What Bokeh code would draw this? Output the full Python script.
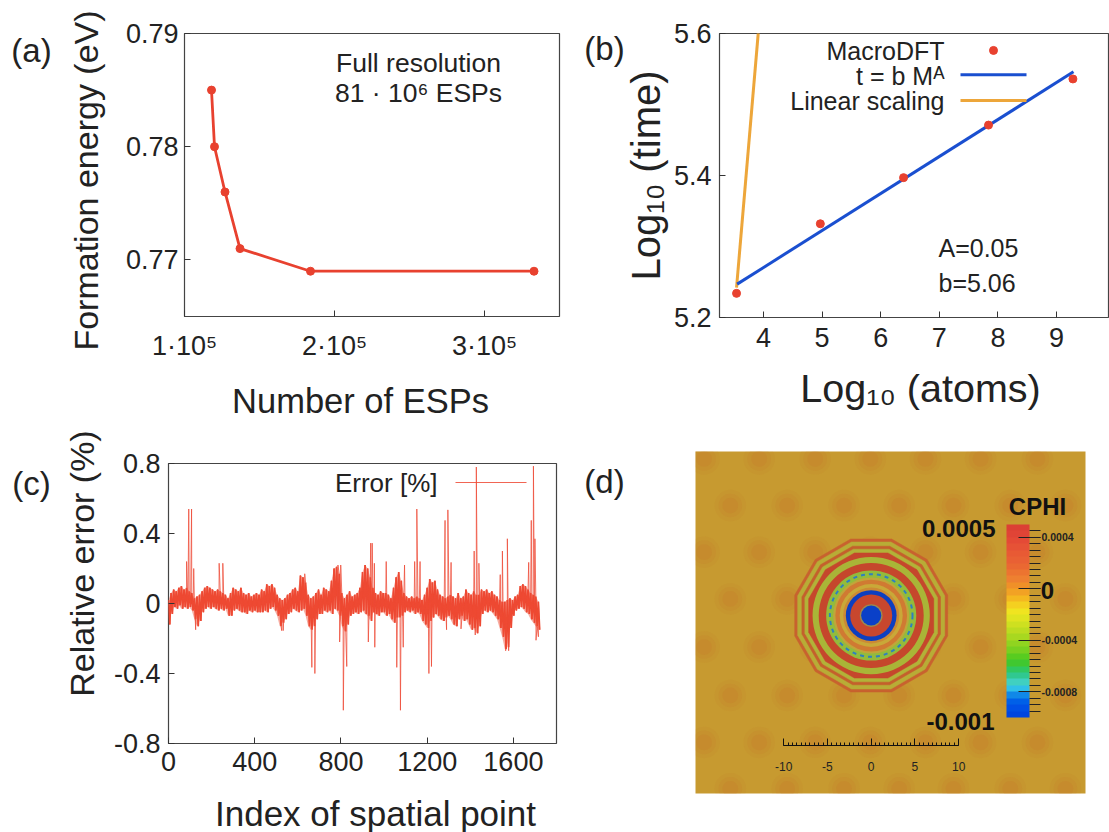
import math
from bokeh.plotting import figure
from bokeh.models import (Range1d, FixedTicker, LinearAxis, Label, ColorBar, LinearColorMapper)
from bokeh.core.properties import value
from bokeh.embed import file_html
from bokeh.resources import INLINE

FONT = "Liberation Sans"
INK = "#222222"
RED = "#e8412f"

# (a)
esp_count = [1.18e5, 1.20e5, 1.27e5, 1.37e5, 1.84e5, 3.33e5]
formation_energy = [0.785, 0.780, 0.776, 0.771, 0.769, 0.769]
a_xticks = [1e5, 2e5, 3e5]
a_xlabels = ["1·10⁵", "2·10⁵", "3·10⁵"]
a_yticks = [0.77, 0.78, 0.79]

# (b)
log_atoms = [3.54, 4.97, 6.39, 7.84, 9.28]
log_time = [5.234, 5.332, 5.397, 5.471, 5.536]
fit_x = [3.55, 9.29]
fit_y = [5.247, 5.546]
linear_x = [3.54, 3.92]
linear_y = [5.242, 5.61]
b_xticks = [4, 5, 6, 7, 8, 9]
b_yticks = [5.2, 5.4, 5.6]

# (c)  band of the series, read every 12 points (upper and lower edge), then the spikes
band_hi = [
    .02, .06, .08, .07, .09, .10, .08, .09, .07, .06, .03, .04,
    .05, .07, .09, .10, .09, .08, .07, .08, .07, .06, .05, .03,
    .06, .09, .08, .07, .09, .06, .05, .06, .04, .05, .06, .05,
    .08, .07, .11, .10, .11, .09, .05, .03, .02, .03, .05, .06,
    .08, .09, .07, .16, .15, .12, .05, .03, .04, .06, .08, .05,
    .09, .08, .07, .13, .20, .21, .17, .06, .03, .05, .07, .04,
    .05, .06, .09, .18, .22, .20, .15, .09, .06, .05, .07, .06,
    .06, .05, .03, .09, .15, .18, .13, .06, .04, .03, .04, .03,
    .04, .03, .02, .05, .09, .14, .12, .13, .08, .05, .04, .03,
    .04, .05, .04, .03, .06, .03, .04, .08, .06, .05, .07, .05,
    .05, .08, .07, .08, .06, .07, .05, .04, .02, .01, .01, .02,
    .03, .02, .04, .05, .10, .11, .10, .08, .06, .05, .04, .01,
]
band_lo = [
    -.12, -.06, -.02, -.03, -.01, -.03, -.02, -.03, -.02, -.04, -.09, -.13,
    -.10, -.05, -.03, -.02, -.03, -.02, -.03, -.04, -.03, -.04, -.03, -.07,
    -.07, -.04, -.03, -.04, -.05, -.05, -.06, -.04, -.05, -.04, -.05, -.05,
    -.05, -.04, -.05, -.03, -.02, -.04, -.07, -.13, -.11, -.09, -.06, -.05,
    -.03, -.04, -.05, -.04, -.03, -.07, -.13, -.15, -.13, -.09, -.06, -.06,
    -.04, -.05, -.04, -.06, -.03, -.04, -.07, -.13, -.16, -.12, -.07, -.06,
    -.05, -.06, -.05, -.04, -.06, -.07, -.10, -.05, -.06, -.07, -.05, -.05,
    -.07, -.06, -.09, -.11, -.08, -.08, -.07, -.05, -.04, -.05, -.04, -.06,
    -.05, -.06, -.10, -.12, -.14, -.10, -.08, -.06, -.07, -.09, -.10, -.08,
    -.07, -.09, -.12, -.13, -.09, -.07, -.10, -.09, -.12, -.15, -.14, -.17,
    -.13, -.06, -.04, -.05, -.04, -.05, -.07, -.09, -.14, -.19, -.26, -.25,
    -.14, -.07, -.04, -.03, -.02, -.03, -.05, -.06, -.09, -.11, -.13, -.15,
]
spike_index = [84, 94, 107, 117, 126, 235, 252, 525, 532, 632, 665, 679, 786, 794, 799, 811, 827,
               927, 938, 945, 955, 957, 1010, 1059, 1076, 1089, 1095, 1142, 1152, 1167, 1208, 1220,
               1283, 1290, 1296, 1311, 1357, 1418, 1423, 1428, 1440, 1539, 1549, 1564, 1572, 1578,
               1671, 1683, 1693, 1700, 1705, 1716]
spike_value = [.24, .54, .54, .20, -.15, .23, .23, -.155, -.155, .17, -.365, -.40, .22, -.22, .22, -.61, -.36,
               -.22, .345, .345, .23, -.25, .24, -.365, -.61, -.25, .22, .24, .54, .24, -.40, -.36,
               .475, -.15, .535, .235, -.145, .30, -.18, .78, .23, .165, .30, -.27, .37, -.27,
               .235, .475, .785, .37, -.21, -.19]
c_xticks = [0, 400, 800, 1200, 1600]
c_xlabels = ["0", "400", "800", "1200", "1600"]
c_yticks = [-0.8, -0.4, 0, 0.4, 0.8]
c_ylabels = ["-0.8", "-0.4", "0", "0.4", "0.8"]

# (d)
lattice_rows_y = [17.9, 12.57, 7.24, 1.9, -3.6, -9.14, -14.5, -19.8]
lattice_even_x = [-19.1, -12.8, -6.4, -0.1, 6.2, 12.5, 19.0]
lattice_odd_x = [-16.1, -9.6, -3.1, 3.2, 9.4, 15.9, 22.2]
outer_ring_radius = [9.05, 8.7, 8.2, 7.85, 7.4]
outer_ring_color = ["#c8622e", "#b8ac36", "#c4602c", "#b2b238", "#c5472c"]
ring_radius = [6.7, 6.0, 5.15, 4.35, 4.1, 3.6, 3.2, 2.9, 2.4, 1.3, 1.15]
ring_color = ["#a9b537", "#c5472c", "#93bb3c", "#c0a63a", "#d07a32", "#c9a838", "#cc8a34",
              "#0d3fc0", "#c8472e", "#9a8a50", "#0a40c8"]
cphi_palette = ["#0046e0", "#0050e6", "#0060e8", "#1088e8", "#30c0e8", "#40d0c0", "#30c890", "#30c860",
                "#40c830", "#58cc20", "#78d020", "#90d420", "#a8d820", "#bcdc20", "#cee020", "#e0e420",
                "#f0e420", "#f4d020", "#f4b820", "#f2a224", "#f09028", "#ee8030", "#ec7430", "#ea6832",
                "#e96034", "#e85a34", "#e65236", "#e44a36", "#e04436", "#dc4034"]
cphi_low, cphi_high = -0.001, 0.0005
cphi_ticks = [-0.0008, -0.0004, 0, 0.0004]
ruler_ticks = [-10, -5, 0, 5, 10]
ruler_labels = ["-10", "-5", "0", "5", "10"]


def panel(left, right, top, bottom, fl, fr, ft, fb, xr, yr, **kw):
    """One panel; l/r/t/b are its page box, fl/fr/ft/fb its frame on the page."""
    p = figure(width=right - left, height=bottom - top, x_range=Range1d(*xr), y_range=Range1d(*yr),
               output_backend="svg", toolbar_location=None,
               min_border_left=fl - left, min_border_right=right - fr,
               min_border_top=ft - top, min_border_bottom=bottom - fb, **kw)
    p.styles = {"position": "absolute", "left": f"{left}px", "top": f"{top}px"}
    p.grid.visible = False
    p.outline_line_color = "#444444"
    p.outline_line_width = 1.2
    p.background_fill_color = "white"
    p.border_fill_color = "white"
    return p


def style_axes(p, size):
    for ax in (p.xaxis[0], p.yaxis[0]):
        ax.axis_line_color = None
        ax.major_tick_in = 6
        ax.major_tick_out = 0
        ax.major_tick_line_color = "#333333"
        ax.minor_tick_line_color = None
        ax.major_label_text_font = FONT
        ax.major_label_text_font_size = f"{size}px"
        ax.major_label_text_color = INK


def text(p, frame, px, py, s, size, align="left", style="normal", color=INK):
    fl, fb = frame
    p.add_layout(Label(x=px - fl, y=fb - py, x_units="screen", y_units="screen", text=s,
                       text_font=FONT, text_font_size=f"{size}px", text_font_style=style,
                       text_align=align, text_baseline="middle", text_color=color))


# ---------- (a)
pa = panel(0, 575, 0, 420, 184, 559, 33, 316, (1e5, 3.5e5), (0.765, 0.79))
pa.line(esp_count, formation_energy, line_color=RED, line_width=2.8)
pa.scatter(esp_count, formation_energy, size=8, color=RED)
style_axes(pa, 27)
pa.xaxis.ticker = FixedTicker(ticks=a_xticks)
pa.xaxis.major_label_overrides = dict(zip(a_xticks, a_xlabels))
pa.yaxis.ticker = FixedTicker(ticks=a_yticks)
pa.xaxis.major_label_standoff = 14
pa.yaxis.major_label_standoff = 6
fa = (184, 316)
text(pa, fa, 418, 62, "Full resolution", 26.5, "center")
text(pa, fa, 418, 92, "81 · 10⁶ ESPs", 26.5, "center")

# ---------- (b)
bx = lambda px: 4 + (px - 763) / 58.6
by = lambda py: 5.2 + (316.7 - py) / 709
pb = panel(575, 1109, 0, 420, 719, 1109, 33, 317, (bx(719), bx(1109)), (5.2, 5.6))
pb.line(linear_x, linear_y, line_color="#eda63a", line_width=3)
pb.line(fit_x, fit_y, line_color="#1a4fd0", line_width=3)
pb.scatter(log_atoms, log_time, size=8, color=RED)
style_axes(pb, 27)
pb.xaxis.ticker = FixedTicker(ticks=b_xticks)
pb.yaxis.ticker = FixedTicker(ticks=b_yticks)
pb.xaxis.major_label_standoff = 10
pb.yaxis.major_label_standoff = 8
fb = (719, 317)
text(pb, fb, 944, 50, "MacroDFT", 25, "right")
text(pb, fb, 944, 75, "t = b Mᴬ", 25, "right")
text(pb, fb, 944, 100, "Linear scaling", 25, "right")
pb.scatter([bx(993)], [by(50)], size=8, color=RED)
pb.line([bx(960), bx(1026)], [by(74.3), by(74.3)], line_color="#1a4fd0", line_width=3)
pb.line([bx(960), bx(1026)], [by(100), by(100)], line_color="#eda63a", line_width=3)
text(pb, fb, 938, 247, "A=0.05", 25)
text(pb, fb, 938, 282, "b=5.06", 25)

# ---------- (c)
band_index = list(range(0, 1720, 12))
zig = []
for i, hi, lo in zip(band_index, band_hi, band_lo):
    zig.append((i, hi))
    zig.append((i + 6, lo))
points = sorted(zig + list(zip(spike_index, spike_value)))
err_x = [q[0] for q in points]
err_y = [q[1] for q in points]

pc = panel(0, 575, 420, 832, 168, 556, 463, 743, (0, 1800), (-0.8, 0.8))
pc.varea(band_index, band_lo, band_hi, fill_color="#ee4a30", fill_alpha=0.45)
pc.line([q[0] for q in zig], [q[1] for q in zig], line_color="#ee4a30", line_width=1.7)
pc.line(err_x, err_y, line_color="#ee4a35", line_width=1.0, line_alpha=0.75)
style_axes(pc, 27)
pc.xaxis.ticker = FixedTicker(ticks=c_xticks)
pc.xaxis.major_label_overrides = dict(zip(c_xticks, c_xlabels))
pc.yaxis.ticker = FixedTicker(ticks=c_yticks)
pc.yaxis.major_label_overrides = dict(zip(c_yticks, c_ylabels))
pc.xaxis.major_label_standoff = 8
pc.yaxis.major_label_standoff = 8
fc = (168, 743)
cx = lambda px: (px - 168) / 388 * 1800
cy = lambda py: (603 - py) / 140 * 0.8
text(pc, fc, 437, 482, "Error [%]", 26, "right")
pc.line([cx(455), cx(526)], [cy(482), cy(482)], line_color="#ee4a35", line_width=1.2, line_alpha=0.85)

# ---------- (d)
dxr = ((695 - 870.7) / 8.75, (1085 - 870.7) / 8.75)
dyr = ((615 - 793) / 8.75, (615 - 451) / 8.75)
pd_ = panel(575, 1109, 420, 832, 695, 1085, 451, 793, dxr, dyr, x_axis_type=None, y_axis_type=None)
pd_.outline_line_color = None
pd_.background_fill_color = "#c79a30"
lat_x, lat_y = [], []
for k, yy in enumerate(lattice_rows_y):
    for xx in (lattice_even_x if k % 2 == 0 else lattice_odd_x):
        lat_x.append(xx)
        lat_y.append(yy)
for r, a in ((1.8, 0.12), (1.35, 0.18), (0.9, 0.25)):
    pd_.circle(lat_x, lat_y, radius=r, fill_color="#c97a2c", fill_alpha=a, line_color=None)
for r, col in zip(outer_ring_radius, outer_ring_color):
    pd_.ngon([0], [0], radius=r, n=12, angle=math.pi / 12, fill_color=col, line_color=col, line_alpha=0.5)
pd_.circle([0] * len(ring_radius), [0] * len(ring_radius), radius=ring_radius,
           fill_color=ring_color, line_color=None)
pd_.circle([0], [0], radius=4.72, fill_color=None, line_color="#2f7fc0", line_width=2, line_dash="4 4")

ruler = LinearAxis(fixed_location=(615 - 745) / 8.75, bounds=(-10, 10))
ruler.ticker = FixedTicker(ticks=ruler_ticks, minor_ticks=[v * 0.5 for v in range(-20, 21)])
ruler.major_label_overrides = dict(zip(ruler_ticks, ruler_labels))
ruler.major_tick_in = 7
ruler.major_tick_out = 0
ruler.minor_tick_in = 3
ruler.minor_tick_out = 0
ruler.axis_line_color = "#111111"
ruler.major_tick_line_color = "#111111"
ruler.minor_tick_line_color = "#111111"
ruler.major_label_text_font = FONT
ruler.major_label_text_font_size = "12px"
ruler.major_label_text_color = "#222222"
ruler.major_label_standoff = 16
pd_.add_layout(ruler, "below")

mapper = LinearColorMapper(palette=cphi_palette, low=cphi_low, high=cphi_high)
bar = ColorBar(color_mapper=mapper, location=(1006 - 695, 793 - 717), width=23, height=193,
               margin=0, padding=0, background_fill_alpha=0, border_line_color=None,
               ticker=FixedTicker(ticks=cphi_ticks, minor_ticks=[v * 0.00005 for v in range(-19, 10)]),
               major_label_overrides={-0.0008: "-0.0008", -0.0004: "-0.0004", 0: " ", 0.0004: "0.0004"},
               major_tick_in=11, major_tick_out=11, minor_tick_in=0, minor_tick_out=11,
               major_tick_line_color="#222222", minor_tick_line_color="#222222", bar_line_color=None,
               major_label_text_font=FONT, major_label_text_font_size="10.5px",
               major_label_text_font_style="bold", major_label_text_color="#222222", label_standoff=1)
pd_.add_layout(bar)
fd = (695, 793)
text(pd_, fd, 1037, 506, "CPHI", 24, "center", "bold", "#111111")
text(pd_, fd, 995, 528, "0.0005", 24, "right", "bold", "#111111")
text(pd_, fd, 994, 721, "-0.001", 24, "right", "bold", "#111111")
text(pd_, fd, 1047, 590, "0", 24, "center", "bold", "#111111")

# ---------- panel letters and axis titles, on a clear sheet the size of the page
sheet = figure(width=1109, height=832, x_range=Range1d(0, 1109), y_range=Range1d(832, 0),
               x_axis_type=None, y_axis_type=None, output_backend="svg", toolbar_location=None,
               min_border=0, outline_line_color=None, background_fill_alpha=0, border_fill_alpha=0)
sheet.styles = {"position": "absolute", "left": "0px", "top": "0px"}
sheet.grid.visible = False


def title(px, py, s, size, vertical=False):
    sheet.text([px], [py], text=[s], text_font=value(FONT), text_font_size=f"{size}px",
               text_color=INK, text_align="center", text_baseline="middle",
               angle=math.pi / 2 if vertical else 0)


title(31, 50, "(a)", 33)
title(604, 48, "(b)", 33)
title(31, 483, "(c)", 33)
title(604, 481, "(d)", 33)
title(85, 180, "Formation energy (eV)", 34, True)
title(360, 400, "Number of ESPs", 34.5)
title(645, 175, "Log₁₀ (time)", 40, True)
title(920, 387, "Log₁₀ (atoms)", 39.5)
title(81, 563, "Relative error (%)", 34, True)
title(375, 813, "Index of spatial point", 35)

open("out.html", "w").write(file_html([pa, pb, pc, pd_, sheet], INLINE))
